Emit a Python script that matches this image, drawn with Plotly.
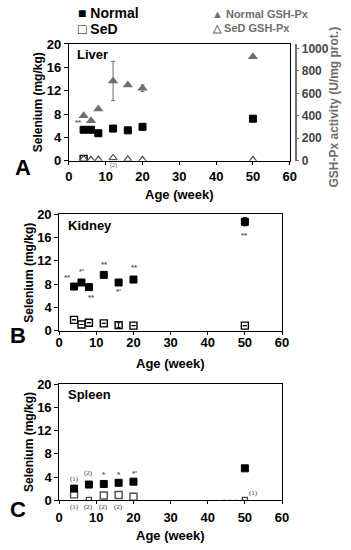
import plotly.graph_objects as go

W, H = 351, 550
def px(x): return x / W
def py(y): return 1 - y / H

weeks = [4, 6, 8, 12, 16, 20, 50]
liver_normal = [5.3, 5.3, 4.7, 5.5, 5.2, 5.8, 7.2]
liver_normal_err = [0, 0, 0, 0, 0, 0, 0.4]
liver_sed_weeks = [4]
liver_sed = [0.3]
gsh_normal = [400, 355, 460, 710, 675, 645, 925]
gsh_normal_err = [0, 0, 0, 175, 0, 30, 0]
gsh_sed = [15, 8, 10, 25, 12, 8, 8]

kidney_normal = [7.6, 8.3, 7.5, 9.6, 8.3, 8.8, 18.7]
kidney_normal_err = [0, 0, 0.5, 0, 0, 0, 0.7]
kidney_sed = [1.9, 1.1, 1.4, 1.3, 1.0, 0.9, 0.9]
kidney_sed_err = [0, 0, 0, 0, 0.4, 0, 0]

spleen_weeks = [4, 8, 12, 16, 20, 50]
spleen_normal = [2.0, 2.7, 2.8, 3.0, 3.2, 5.5]
spleen_sed = [1.0, 0.05, 0.8, 0.9, 0.6, 0.05]
spleen_dot_x = [44, 50]
spleen_dot_y = [0, 0]

liver_marks = [(2.5, 6.5, "**")]
kidney_marks = [(2.3, 9.1, "**"), (6, 10.2, "*'"), (8.8, 5.7, "**"), (12.3, 11.3, "**"),
                (16, 6.7, "*'"), (20.2, 10.8, "**"), (50, 16.4, "**")]
spleen_marks = [(12, 4.4, "*"), (16, 4.4, "*"), (20.3, 4.6, "*'")]
spleen_nums_above = [(4, 3.6, "(1)"), (8, 4.7, "(2)"), (52.3, 1.2, "(1)")]
spleen_nums_below = [(4, "(1)"), (8, "(2)"), (12, "(2)"), (16, "(2)")]
liver_nums_below = [(12, "(2)")]

GREY = "#6e6e6e"
BOLD = "Liberation Sans"

fig = go.Figure()

def sq_filled(x, y, xa, ya, err=None):
    fig.add_trace(go.Scatter(x=x, y=y, mode="markers", xaxis=xa, yaxis=ya, showlegend=False,
        marker=dict(symbol="square", size=7, color="black", line=dict(color="black", width=1)),
        error_y=dict(type="data", array=err, visible=err is not None, color="black",
                     thickness=1, width=2)))

def sq_open(x, y, xa, ya, err=None, size=7):
    fig.add_trace(go.Scatter(x=x, y=y, mode="markers", xaxis=xa, yaxis=ya, showlegend=False,
        marker=dict(symbol="square-open", size=size, color="black", line=dict(width=1.4)),
        error_y=dict(type="data", array=err, visible=err is not None, color="black",
                     thickness=1, width=2)))

# Liver
fig.add_trace(go.Scatter(x=weeks, y=gsh_normal, mode="markers", xaxis="x", yaxis="y2",
    showlegend=False, marker=dict(symbol="triangle-up", size=9, color=GREY),
    error_y=dict(type="data", array=gsh_normal_err, color=GREY, thickness=1, width=2)))
fig.add_trace(go.Scatter(x=weeks, y=gsh_sed, mode="markers", xaxis="x", yaxis="y2",
    showlegend=False, marker=dict(symbol="triangle-up-open", size=7, color="#555",
                                  line=dict(width=1.2))))
sq_filled(weeks, liver_normal, "x", "y", liver_normal_err)
sq_open(liver_sed_weeks, liver_sed, "x", "y")

# Kidney
sq_filled(weeks, kidney_normal, "x2", "y3", kidney_normal_err)
sq_open(weeks, kidney_sed, "x2", "y3", kidney_sed_err)

# Spleen
fig.add_trace(go.Scatter(x=spleen_dot_x, y=spleen_dot_y, mode="lines", xaxis="x3", yaxis="y4",
    showlegend=False, line=dict(color="#888", width=1, dash="dot")))
sq_open(spleen_weeks, spleen_sed, "x3", "y4", size=[7, 5, 7, 7, 7, 5])
sq_filled(spleen_weeks, spleen_normal, "x3", "y4")

ann = []
def txt(x, y, t, xref="paper", yref="paper", size=12, color="black", font=BOLD, weight="bold",
        xanchor="center", yanchor="middle", textangle=0, yshift=0):
    ann.append(dict(x=x, y=y, xref=xref, yref=yref, text=t, showarrow=False,
                    font=dict(family=font, size=size, color=color, weight=weight),
                    xanchor=xanchor, yanchor=yanchor, textangle=textangle, yshift=yshift))

SERIF = "Liberation Serif"
for x, y, t in liver_marks:
    txt(x, y, t, "x", "y", size=8, color="#555")
for x, t in liver_nums_below:
    txt(x, 0, t, "x", "y", size=6, font=SERIF, weight="normal", color="#555", yshift=-5)
for x, y, t in kidney_marks:
    txt(x, y, t, "x2", "y3", size=8, color="#555")
for x, y, t in spleen_marks:
    txt(x, y, t, "x3", "y4", size=8, color="#555")
for x, y, t in spleen_nums_above:
    txt(x, y, t, "x3", "y4", size=7, font=SERIF, weight="normal", color="#333")
for x, t in spleen_nums_below:
    txt(x, 0, t, "x3", "y4", size=7, font=SERIF, weight="normal", color="#333", yshift=-7)

# Panel labels
txt(px(73), py(49), "Liver", size=13, xanchor="left")
txt(px(64), py(225), "Kidney", size=13, xanchor="left")
txt(px(64), py(398), "Spleen", size=13, xanchor="left")
txt(px(9), py(165), "A", size=22, xanchor="left")
txt(px(4), py(338), "B", size=22, xanchor="left")
txt(px(4), py(517), "C", size=22, xanchor="left")

# Legend
txt(px(74), py(6), "■ Normal", size=14, xanchor="left")
txt(px(74), py(23), "□ SeD", size=14, xanchor="left")
txt(px(213), py(7), "▲ Normal GSH-Px", size=11, xanchor="left", color=GREY)
txt(px(213), py(22), "△ SeD GSH-Px", size=11, xanchor="left", color=GREY)

# Axis titles
txt(px(181), py(193), "Age (week)", size=13)
txt(px(172), py(367), "Age (week)", size=13)
txt(px(172), py(543), "Age (week)", size=13)
txt(px(35), py(98), "Selenium (mg/kg)", size=12, textangle=-90)
txt(px(25), py(273), "Selenium (mg/kg)", size=12, textangle=-90)
txt(px(26), py(447), "Selenium (mg/kg)", size=12, textangle=-90)
txt(px(341), py(103), "GSH-Px activity (U/mg prot.)", size=12, textangle=-90, color=GREY)

tickfont = dict(family=BOLD, size=13, color="black", weight="bold")
def xax(domain, anchor, standoff=0):
    return dict(domain=domain, anchor=anchor, range=[0, 60], tickvals=[0, 10, 20, 30, 40, 50, 60],
                showline=True, linecolor="black", linewidth=1, mirror=True, ticks="outside",
                ticklen=3, tickcolor="black", showgrid=False, zeroline=False, tickfont=tickfont,
                ticklabelstandoff=standoff)
def yax(domain, anchor):
    return dict(domain=domain, anchor=anchor, range=[0, 20], tickvals=[0, 4, 8, 12, 16, 20],
                showline=True, linecolor="black", linewidth=1, mirror=True, ticks="outside",
                ticklen=4, tickcolor="black", showgrid=False, zeroline=False, tickfont=tickfont)

fig.update_layout(
    width=W, height=H, margin=dict(l=0, r=0, t=0, b=0),
    paper_bgcolor="white", plot_bgcolor="white", showlegend=False,
    xaxis=xax([px(67), px(295)], "y", 1),
    yaxis=yax([py(158), py(38)], "x"),
    yaxis2=dict(overlaying="y", anchor="free", position=px(301), side="right",
                range=[0, 1040], tickvals=[0, 200, 400, 600, 800, 1000],
                showline=True, linecolor=GREY, linewidth=1.5, ticks="outside", ticklen=3,
                tickcolor=GREY, showgrid=False, zeroline=False,
                tickfont=dict(family=BOLD, size=12, color="#444", weight="bold")),
    xaxis2=xax([px(57), px(287)], "y3", -4),
    yaxis3=yax([py(333), py(213)], "x2"),
    xaxis3=xax([px(57), px(287)], "y4", 2),
    yaxis4=yax([py(507), py(388)], "x3"),
    annotations=ann,
)

fig.write_html("out.html", config={"displayModeBar": False},
               post_script="document.body.style.margin='0';")
